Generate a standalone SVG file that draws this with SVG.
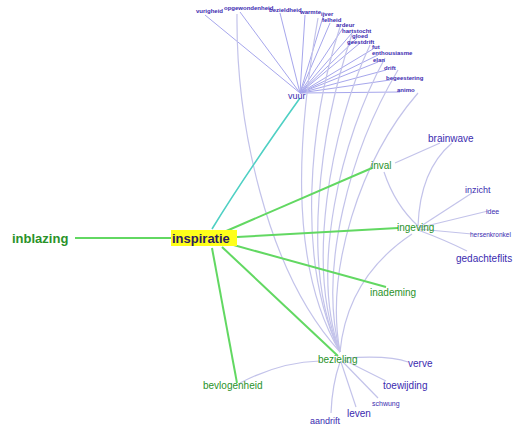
<svg xmlns="http://www.w3.org/2000/svg" width="521" height="428" viewBox="0 0 521 428">
<style>
text{font-family:"Liberation Sans",Arial,sans-serif}
.g{fill:#2a922a}
.p{fill:#3b2bb0}
.t{font-size:6px;font-weight:bold}
.lv{fill:none;stroke:#c3c3ea;stroke-width:1.2}
.fan{fill:none;stroke:#a6a6ec;stroke-width:1}
.gr{fill:none;stroke:#62d862;stroke-width:2}
</style>
<rect width="521" height="428" fill="#fff"/>
<g id="connectors">
  <path class="fan" d="M300,93 L205,15 M300,93 L240,12 M300,93 L280,13 M300,93 L305,15 M300,93 L323,17 M300,93 L330,23 M300,93 L343,28 M300,93 L352,33 M300,93 L357,38 M300,93 L360,43 M300,93 L373,49 M300,93 L378,55 M300,93 L378,62 M300,93 L386,70 M300,93 L390,80 M300,93 L400,92"/>
  <path class="lv" d="M237,14 C236,120 265,270 340,352"/>
  <path class="lv" d="M318,18 C300,120 285,260 340,352"/>
  <path class="lv" d="M340,27 C310,120 295,260 340,352"/>
  <path class="lv" d="M352,34 C320,130 300,270 340,352"/>
  <path class="lv" d="M370,45 C330,130 305,270 340,352"/>
  <path class="lv" d="M385,58 C340,140 310,270 340,352"/>
  <path class="lv" d="M398,70 C350,150 318,270 340,352"/>
  <path class="lv" d="M418,93 C360,160 325,270 340,352"/>
  <path class="lv" d="M412,234 C370,262 345,300 340,352"/>
  <path class="lv" d="M395,163 L440,143"/>
  <path class="lv" d="M384,172 Q395,205 418,226"/>
  <path class="lv" d="M418,226 Q420,170 452,143"/>
  <path class="lv" d="M418,228 L472,193"/>
  <path class="lv" d="M418,228 L488,211"/>
  <path class="lv" d="M418,229 L472,234"/>
  <path class="lv" d="M418,230 Q445,240 467,251"/>
  <path class="lv" d="M240,383 Q280,362 320,361"/>
  <path class="lv" d="M345,358 Q390,355 408,362"/>
  <path class="lv" d="M344,360 L386,381"/>
  <path class="lv" d="M342,361 L378,398"/>
  <path class="lv" d="M341,362 L356,407"/>
  <path class="lv" d="M340,362 Q332,385 331,413"/>
  <path d="M212,229 Q245,175 300,98" fill="none" stroke="#4fd0c4" stroke-width="1.6"/>
  <path class="gr" d="M75,238 L171,238"/>
  <path class="gr" d="M224,232 L372,168"/>
  <path class="gr" d="M237,237 L398,228"/>
  <path class="gr" d="M230,244 L386,287"/>
  <path class="gr" d="M222,247 L338,356"/>
  <path class="gr" d="M212,248 L237,383"/>
</g>
<g id="inblazing"><text class="g" x="12" y="243" font-size="13" font-weight="bold">inblazing</text></g>
<g id="inspiratie"><rect x="171" y="230" width="66" height="16" fill="#ffff1a"/><text x="172" y="243" font-size="13" font-weight="bold" fill="#2a1a60">inspiratie</text></g>
<g id="vuur"><text class="p" x="288" y="99" font-size="9">vuur</text></g>
<g id="inval"><text class="g" x="371" y="169" font-size="10">inval</text></g>
<g id="ingeving"><text class="g" x="397" y="231" font-size="10">ingeving</text></g>
<g id="inademing"><text class="g" x="370" y="296" font-size="10">inademing</text></g>
<g id="bezieling"><text class="g" x="318" y="363" font-size="10">bezieling</text></g>
<g id="bevlogenheid"><text class="g" x="203" y="389" font-size="10">bevlogenheid</text></g>
<g id="brainwave"><text class="p" x="428" y="142" font-size="10">brainwave</text></g>
<g id="inzicht"><text class="p" x="465" y="193" font-size="9">inzicht</text></g>
<g id="idee"><text class="p" x="486" y="214" font-size="7">idee</text></g>
<g id="hersenkronkel"><text class="p" x="470" y="237" font-size="6.5">hersenkronkel</text></g>
<g id="gedachteflits"><text class="p" x="456" y="262" font-size="10">gedachteflits</text></g>
<g id="verve"><text class="p" x="408" y="367" font-size="10">verve</text></g>
<g id="toewijding"><text class="p" x="383" y="389" font-size="10">toewijding</text></g>
<g id="schwung"><text class="p" x="372" y="406" font-size="7">schwung</text></g>
<g id="leven"><text class="p" x="347" y="417" font-size="10">leven</text></g>
<g id="aandrift"><text class="p" x="310" y="424" font-size="9">aandrift</text></g>
<g id="vurigheid"><text class="p t" x="196" y="13">vurigheid</text></g>
<g id="opgewondenheid"><text class="p t" x="224" y="10">opgewondenheid</text></g>
<g id="bezieldheid"><text class="p t" x="269" y="12">bezieldheid</text></g>
<g id="warmte"><text class="p t" x="300" y="14">warmte</text></g>
<g id="ijver"><text class="p t" x="321" y="16">ijver</text></g>
<g id="felheid"><text class="p t" x="322" y="22">felheid</text></g>
<g id="ardeur"><text class="p t" x="336" y="27">ardeur</text></g>
<g id="hartstocht"><text class="p t" x="342" y="32.5">hartstocht</text></g>
<g id="gloed"><text class="p t" x="352" y="38">gloed</text></g>
<g id="geestdrift"><text class="p t" x="347" y="43.5">geestdrift</text></g>
<g id="fut"><text class="p t" x="372" y="49">fut</text></g>
<g id="enthousiasme"><text class="p t" x="372" y="55">enthousiasme</text></g>
<g id="elan"><text class="p t" x="373" y="61.5">elan</text></g>
<g id="drift"><text class="p t" x="384" y="70">drift</text></g>
<g id="begeestering"><text class="p t" x="386" y="80">begeestering</text></g>
<g id="animo"><text class="p t" x="397" y="92">animo</text></g>
</svg>
